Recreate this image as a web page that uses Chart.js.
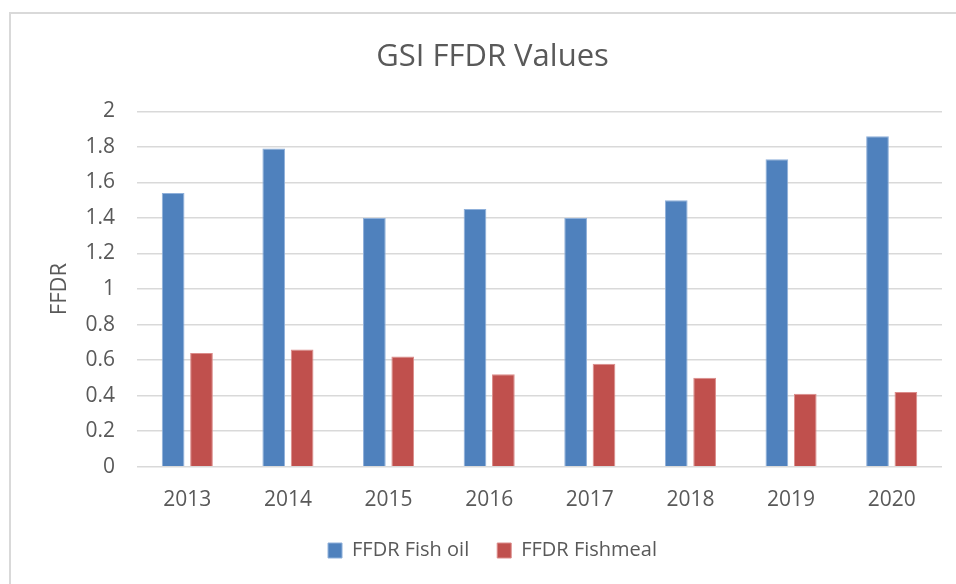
<!DOCTYPE html>
<html>
<head>
<meta charset="utf-8">
<script src="https://cdn.jsdelivr.net/npm/chart.js@4"></script>
<style>
  html, body { margin: 0; padding: 0; background: #fff; overflow: hidden; }
  #frame { position: absolute; left: 9px; top: 12px; width: 1000px; height: 700px;
           border-left: 2px solid #d9d9d9; border-top: 2px solid #d9d9d9; }
  #wrap { position: absolute; left: 0; top: 0; width: 956px; height: 584px; }
</style>
</head>
<body>
<div id="frame"></div>
<div id="wrap"><canvas id="c"></canvas></div>
<script>
const years = ['2013', '2014', '2015', '2016', '2017', '2018', '2019', '2020'];
const fishOil = [1.54, 1.79, 1.40, 1.45, 1.40, 1.50, 1.73, 1.86];
const fishmeal = [0.64, 0.66, 0.62, 0.52, 0.58, 0.50, 0.41, 0.42];
const seriesNames = ['FFDR Fish oil', 'FFDR Fishmeal'];
const titleText = 'GSI FFDR Values';
const yTitle = 'FFDR';

const FONT = "'Open Sans', sans-serif";
const TEXT = '#595959';

new Chart(document.getElementById('c'), {
  type: 'bar',
  data: {
    labels: years,
    datasets: [
      { label: seriesNames[0], data: fishOil, backgroundColor: '#4F81BD',
        borderColor: '#8FB0DA', borderWidth: 1,
        categoryPercentage: 0.564, barPercentage: 0.8 },
      { label: seriesNames[1], data: fishmeal, backgroundColor: '#C0504D',
        borderColor: '#DB8C8A', borderWidth: 1,
        categoryPercentage: 0.564, barPercentage: 0.8 }
    ]
  },
  options: {
    responsive: true,
    maintainAspectRatio: false,
    animation: false,
    layout: { padding: { top: 39, left: 43, right: 14, bottom: 13.5 } },
    plugins: {
      title: {
        display: true, text: titleText, color: TEXT,
        font: { family: FONT, size: 31, weight: 'normal' },
        padding: { top: 0, bottom: 35.1 }
      },
      legend: {
        position: 'bottom',
        labels: {
          color: TEXT, font: { family: FONT, size: 20 },
          boxWidth: 14, boxHeight: 15, padding: 28
        }
      },
      tooltip: { enabled: false }
    },
    scales: {
      x: {
        grid: { display: false },
        border: { display: false },
        ticks: { color: TEXT, font: { family: FONT, size: 21 }, padding: 12.5 },
        afterFit(scale) { scale.height = 45.8; }
      },
      y: {
        min: 0, max: 2,
        ticks: { stepSize: 0.2, color: TEXT, font: { family: FONT, size: 21 }, padding: 22,
                 callback: v => Number(v.toFixed(1)).toString() },
        grid: { color: '#d9d9d9', lineWidth: 1.5, drawTicks: false },
        border: { display: false },
        title: { display: true, text: yTitle, color: TEXT,
                 font: { family: FONT, size: 22 }, padding: { top: 4, bottom: 0 } },
        afterFit(scale) { scale.width = 94; }
      }
    }
  }
});
</script>
</body>
</html>
